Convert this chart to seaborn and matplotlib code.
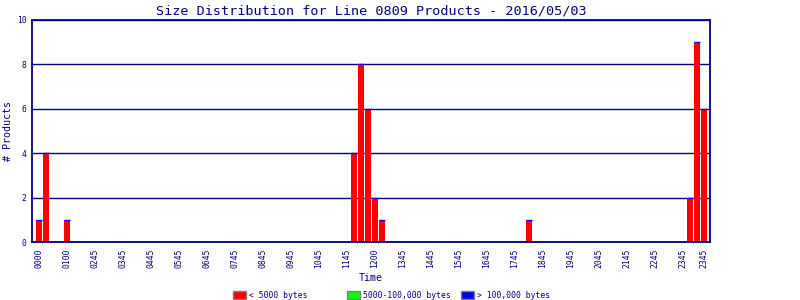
import numpy as np
import pandas as pd
import matplotlib
matplotlib.use("Agg")
import matplotlib.pyplot as plt
from matplotlib.patches import Patch
import seaborn as sns

# ---- data: 15-minute bins over the day ----
time_bins = [f"{h:02d}{m:02d}" for h in range(24) for m in (0, 15, 30, 45)]

small_counts = [  # < 5000 bytes
    1, 4, 0, 0, 1, 0, 0, 0, 0, 0, 0, 0,
    0, 0, 0, 0, 0, 0, 0, 0, 0, 0, 0, 0,
    0, 0, 0, 0, 0, 0, 0, 0, 0, 0, 0, 0,
    0, 0, 0, 0, 0, 0, 0, 0, 0, 4, 8, 6,
    2, 1, 0, 0, 0, 0, 0, 0, 0, 0, 0, 0,
    0, 0, 0, 0, 0, 0, 0, 0, 0, 0, 1, 0,
    0, 0, 0, 0, 0, 0, 0, 0, 0, 0, 0, 0,
    0, 0, 0, 0, 0, 0, 0, 0, 0, 2, 9, 6,
]
medium_counts = [0] * 96  # 5000-100,000 bytes
large_counts = [0] * 96   # > 100,000 bytes

tick_labels = ["0000", "0100", "0245", "0345", "0445", "0545", "0645", "0745",
               "0845", "0945", "1045", "1145", "1200", "1345", "1445", "1545",
               "1645", "1745", "1845", "1945", "2045", "2145", "2245", "2345",
               "2345"]

legend_labels = ["< 5000 bytes", "5000-100,000 bytes", "> 100,000 bytes"]
title = "Size Distribution for Line 0809 Products - 2016/05/03"

NAVY = "#000080"
RED, GREEN, BLUE = "#FF0000", "#00FF00", "#0000FF"

df = pd.DataFrame({"time": time_bins, "small": small_counts,
                   "medium": medium_counts, "large": large_counts})
df["base2"] = df["small"] + df["medium"]

sns.set_theme(style="white")
plt.rcParams["font.family"] = ["DejaVu Sans Mono", "DejaVu Sans"]

fig = plt.figure(figsize=(8, 3), dpi=100, facecolor="white")
ax = fig.add_axes([0.04, 1 - 242 / 300, (710 - 32) / 800, (242 - 20) / 300])
ax.set_facecolor("white")

# grid lines behind bars
ax.set_axisbelow(True)
ax.yaxis.grid(True, color=NAVY, linewidth=1.0)
ax.xaxis.grid(False)

bw = 6 / 7
sns.barplot(data=df, x="time", y="small", order=time_bins, color=RED,
            width=bw, saturation=1, linewidth=0, ax=ax, errorbar=None)
sns.barplot(data=df, x="time", y="medium", order=time_bins, color=GREEN,
            width=bw, saturation=1, linewidth=0, bottom=df["small"].to_numpy(),
            ax=ax, errorbar=None)
sns.barplot(data=df, x="time", y="large", order=time_bins, color=BLUE,
            width=bw, saturation=1, edgecolor=BLUE, linewidth=1.0,
            bottom=df["base2"].to_numpy(), ax=ax, errorbar=None)

ax.set_xlim(-1.0, 95.86)
ax.set_ylim(0, 10)
ax.set_yticks([0, 2, 4, 6, 8, 10])
ax.set_yticklabels(["0", "2", "4", "6", "8", "10"])

tick_pos = list(range(0, 93, 4)) + [95]
ax.set_xticks(tick_pos)
ax.set_xticklabels(tick_labels, rotation=90)

ax.tick_params(axis="both", length=0, colors=NAVY, labelsize=5.8, pad=4)
ax.tick_params(axis="x", pad=5)
for s in ax.spines.values():
    s.set_visible(True)
    s.set_color(NAVY)
    s.set_linewidth(1.3)
    s.set_zorder(5)

ax.set_xlabel("Time", color=NAVY, fontsize=7.2, labelpad=3)
ax.set_ylabel("# Products", color=NAVY, fontsize=7.2, labelpad=3)
ax.set_title(title, color=NAVY, fontsize=9.7, pad=4)

# legend: three entries placed like the original
legend_x = [233 / 800, 347 / 800, 461 / 800]
for lbl, col, lx in zip(legend_labels, (RED, GREEN, BLUE), legend_x):
    h = Patch(facecolor=col, edgecolor="#808080", linewidth=1.0)
    leg = fig.legend([h], [lbl], loc="center left",
                     bbox_to_anchor=(lx, 1 - 295 / 300), frameon=False,
                     fontsize=5.8, handlelength=1.6, handleheight=1.2,
                     handletextpad=0.35, borderpad=0, borderaxespad=0)
    for t in leg.get_texts():
        t.set_color(NAVY)

fig.savefig("out.png", dpi=100, facecolor="white")
